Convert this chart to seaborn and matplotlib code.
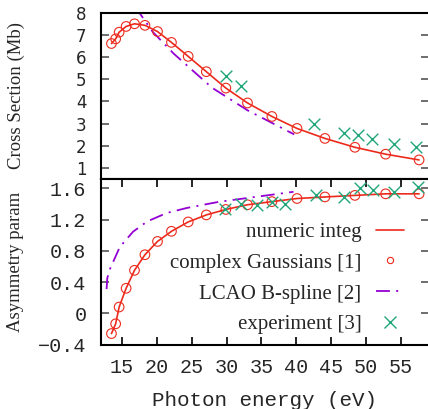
import numpy as np
import pandas as pd
import seaborn as sns
import matplotlib
matplotlib.use("Agg")
from matplotlib import pyplot as plt
from matplotlib.lines import Line2D

# values
# top panel: cross section (Mb)
cs_line_e = [13.5, 14.1, 14.6, 15.6, 16.8, 18.3, 20.1, 22.1, 24.5, 27.1, 29.9,
             33.0, 36.5, 40.1, 44.1, 48.4, 52.8, 57.6]
cs_line = [6.61, 6.82, 7.12, 7.38, 7.50, 7.43, 7.15, 6.66, 6.03, 5.34, 4.60,
           3.93, 3.32, 2.78, 2.33, 1.93, 1.62, 1.36]
cs_gauss_e = cs_line_e
cs_gauss = [6.61, 6.82, 7.12, 7.38, 7.50, 7.43, 7.15, 6.66, 6.03, 5.34, 4.60,
            3.93, 3.32, 2.78, 2.33, 1.93, 1.62, 1.36]
cs_lcao_e = [17.0, 17.5, 19.4, 22.4, 27.9, 33.0, 39.7]
cs_lcao = [8.3, 8.0, 7.14, 6.16, 4.62, 3.60, 2.51]
cs_exp_e = [29.9, 32.0, 42.6, 46.8, 48.8, 50.9, 54.0, 57.2]
cs_exp = [5.13, 4.70, 2.99, 2.59, 2.50, 2.31, 2.09, 1.93]

# bottom panel: asymmetry parameter
b_line_e = cs_line_e
b_line = [-0.26, -0.135, 0.08, 0.32, 0.55, 0.75, 0.92, 1.05, 1.17, 1.26, 1.33,
          1.39, 1.43, 1.47, 1.49, 1.51, 1.53, 1.53]
b_gauss_e = cs_line_e
b_gauss = [-0.26, -0.135, 0.08, 0.32, 0.55, 0.75, 0.92, 1.05, 1.17, 1.26, 1.33,
           1.39, 1.43, 1.47, 1.49, 1.51, 1.53, 1.53]
b_lcao_e = [12.8, 12.9, 13.3, 14.7, 16.6, 18.6, 21.4, 24.3, 28.1, 29.1, 39.6]
b_lcao = [0.31, 0.45, 0.57, 0.85, 1.045, 1.175, 1.284, 1.349, 1.414, 1.43, 1.556]
b_exp_e = [29.8, 32.0, 34.4, 36.5, 38.4, 42.75, 46.8, 49.2, 51.0, 54.0, 57.4]
b_exp = [1.34, 1.40, 1.39, 1.43, 1.40, 1.51, 1.49, 1.61, 1.58, 1.55, 1.62]

labels = ["numeric integ", "complex Gaussians [1]", "LCAO B-spline [2]", "experiment [3]"]
xticks = [15, 20, 25, 30, 35, 40, 45, 50, 55]

red = "#ec2a1c"
purple = "#9400d3"
green = "#1fa67a"

sns.set_theme(style="ticks")
plt.rcParams["lines.scale_dashes"] = False
plt.rcParams["font.family"] = ["DejaVu Sans"]

W, H = 428, 409
fig = plt.figure(figsize=(W / 100, H / 100), dpi=100)
left, right = 101 / W, 1.002
ax1 = fig.add_axes([left, 1 - 179 / H, right - left, (179 - 12.7) / H])
ax2 = fig.add_axes([left, 1 - 344.5 / H, right - left, (344.5 - 179) / H])

dash = (0, (10, 4.5, 1.5, 4.5))

for ax, le, l, ge, g, ce, c, ee, e in [
        (ax1, cs_line_e, cs_line, cs_gauss_e, cs_gauss, cs_lcao_e, cs_lcao, cs_exp_e, cs_exp),
        (ax2, b_line_e, b_line, b_gauss_e, b_gauss, b_lcao_e, b_lcao, b_exp_e, b_exp)]:
    sns.lineplot(x=le, y=l, ax=ax, color=red, lw=1.2, sort=False, estimator=None)
    sns.scatterplot(x=ge, y=g, ax=ax, marker="o", s=48, facecolors="none",
                    edgecolor=red, linewidth=0.8, zorder=3)
    sns.lineplot(x=ce, y=c, ax=ax, color=purple, lw=1.3, sort=False, estimator=None,
                 linestyle=dash)
    sns.scatterplot(x=ee, y=e, ax=ax, marker="x", s=70, color=green, linewidth=1.0,
                    zorder=4)
    ax.set_xlim(12, 59)
    ax.set_xticks(xticks)
    for sp in ax.spines.values():
        sp.set_linewidth(1.5)
        sp.set_color("black")
    ax.spines["right"].set_visible(False)
    ax.tick_params(axis="y", direction="in", length=6, width=1.2, color="#555555",
                   left=True, right=True, pad=10.5)

ax1.set_ylim(0.5, 8)
ax1.set_yticks(range(1, 9))
ax1.tick_params(axis="x", bottom=False, top=False, labelbottom=False)
ax1.tick_params(axis="y", labelsize=12)
for t in ax1.get_yticklabels():
    t.set_fontfamily("DejaVu Sans")

ax2.set_ylim(-0.4, 1.72)
ax2.set_yticks([-0.4, 0, 0.4, 0.8, 1.2, 1.6])
ax2.set_yticklabels(["\u22120.4", "0", "0.4", "0.8", "1.2", "1.6"])
ax2.tick_params(axis="x", direction="in", length=6, width=1.2, color="black",
                bottom=True, top=True, pad=10, labelsize=14.5)
ax2.tick_params(axis="y", labelsize=14.5)
for t in ax2.get_yticklabels() + ax2.get_xticklabels():
    t.set_fontfamily(["Liberation Mono", "DejaVu Sans Mono"])

ax1.set_ylabel("Cross Section (Mb)", family="Liberation Serif", fontsize=13.5, va="center")
ax1.yaxis.set_label_coords((17 - 101) / 327, 0.5)
ax2.set_ylabel("Asymmetry param", family="Liberation Serif", fontsize=13.5, va="center")
ax2.yaxis.set_label_coords((16 - 101) / 327, 0.5)
ax2.set_xlabel("Photon energy (eV)", family="Liberation Mono", fontsize=15, va="center")
ax2.xaxis.set_label_coords(0.5, (344.5 - 400) / 165.5)

handles = [
    Line2D([], [], color=red, lw=1.2),
    Line2D([], [], color=red, lw=0, marker="o", markersize=4.5, markerfacecolor="none",
           markeredgewidth=0.8),
    Line2D([], [], color=purple, lw=1.3, linestyle=(0, (10, 4.5, 1.5, 30))),
    Line2D([], [], color=green, lw=0, marker="x", markersize=8, markeredgewidth=1.0),
]
ax2.legend(handles, labels, loc="center right", bbox_to_anchor=((403 - 101) / 327, 0.40),
           frameon=False, markerfirst=False, borderpad=0, borderaxespad=0,
           handlelength=1.33, handletextpad=0.7, labelspacing=0.54,
           prop={"family": "Liberation Serif", "size": 15})

fig.savefig("out.png", dpi=100)
